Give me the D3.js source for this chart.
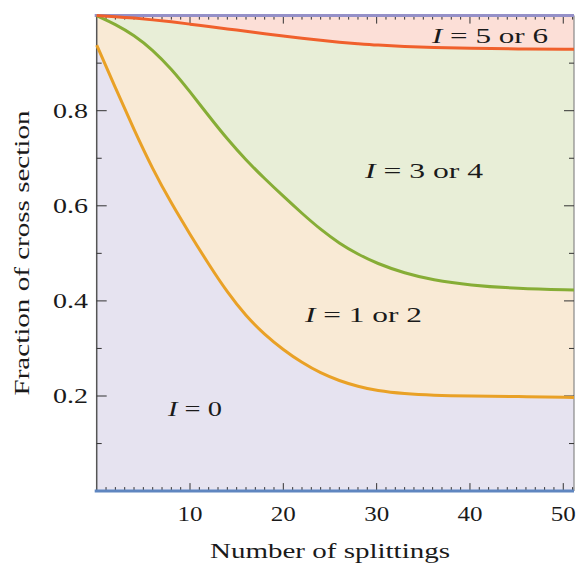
<!DOCTYPE html>
<html>
<head>
<meta charset="utf-8">
<script src="https://cdn.jsdelivr.net/npm/d3@7"></script>
<style>
  body { margin: 0; background: #fff; }
  text { font-family: "Liberation Serif", "DejaVu Serif", serif; fill: #1a1a1a; }
</style>
</head>
<body>
<div id="chart"></div>
<script>
// number of splittings (sample points)
const splittings = [0, 2, 4, 6, 8, 10, 12, 14, 16, 18, 20, 22, 24, 26, 28, 30, 33, 36, 40, 45, 51.15];
// cumulative fraction of cross section: boundary I=0 | I=1,2
const upTo0 = [0.938, 0.848, 0.760, 0.677, 0.605, 0.540, 0.477, 0.418, 0.368, 0.329, 0.297, 0.270, 0.248, 0.232, 0.220, 0.211, 0.2045, 0.2015, 0.200, 0.199, 0.197];
// boundary I=1,2 | I=3,4
const upTo2 = [1.0, 0.982, 0.959, 0.928, 0.888, 0.840, 0.789, 0.740, 0.696, 0.657, 0.620, 0.584, 0.550, 0.521, 0.498, 0.479, 0.458, 0.444, 0.433, 0.426, 0.423];
// boundary I=3,4 | I=5,6
const upTo4 = [1.0, 0.998, 0.995, 0.991, 0.987, 0.982, 0.977, 0.972, 0.967, 0.962, 0.957, 0.952, 0.948, 0.944, 0.941, 0.938, 0.935, 0.933, 0.931, 0.930, 0.929];

const xTicks = [10, 20, 30, 40, 50];
const yTicks = [0.2, 0.4, 0.6, 0.8];

const width = 576, height = 566;
const pLeft = 96.7, pRight = 574, pTop = 15.6, pBottom = 491.1;

const x = d3.scaleLinear().domain([0, 51.15]).range([pLeft, pRight]);
const y = d3.scaleLinear().domain([0, 1]).range([pBottom, pTop]);

const svg = d3.select("#chart").append("svg")
    .attr("width", width)
    .attr("height", height);

const ones = splittings.map(() => 1);
const zeros = splittings.map(() => 0);

const bands = [
    {lo: zeros, hi: upTo0, fill: "#e6e3f0"},
    {lo: upTo0, hi: upTo2, fill: "#f9ead5"},
    {lo: upTo2, hi: upTo4, fill: "#e8eed7"},
    {lo: upTo4, hi: ones, fill: "#fcdfd7"}
];

const area = d3.area()
    .x((d, i) => x(splittings[i]))
    .y0(d => y(d[0]))
    .y1(d => y(d[1]))
    .curve(d3.curveBasis);

bands.forEach(b => {
    svg.append("path")
        .datum(b.lo.map((v, i) => [v, b.hi[i]]))
        .attr("d", area)
        .attr("fill", b.fill);
});

const line = d3.line()
    .x((d, i) => x(splittings[i]))
    .y(d => y(d))
    .curve(d3.curveBasis);

// frame sides
svg.append("line").attr("x1", pLeft).attr("x2", pLeft).attr("y1", pTop).attr("y2", pBottom)
    .attr("stroke", "#555").attr("stroke-width", 1.5);
svg.append("line").attr("x1", pRight).attr("x2", pRight).attr("y1", pTop).attr("y2", pBottom)
    .attr("stroke", "#888").attr("stroke-width", 1.2);

// ticks
const g = svg.append("g").attr("stroke", "#333").attr("stroke-width", 1);
d3.range(1, 52).forEach(t => {
    const major = t % 10 === 0;
    const len = major ? 8 : 4;
    g.append("line").attr("x1", x(t)).attr("x2", x(t)).attr("y1", pBottom).attr("y2", pBottom - len);
    g.append("line").attr("x1", x(t)).attr("x2", x(t)).attr("y1", pTop).attr("y2", pTop + len);
});
d3.range(1, 10).forEach(k => {
    const t = k / 10;
    const major = k % 2 === 0;
    const len = major ? 10 : 5;
    g.append("line").attr("x1", pLeft).attr("x2", pLeft + len).attr("y1", y(t)).attr("y2", y(t));
    g.append("line").attr("x1", pRight).attr("x2", pRight - len).attr("y1", y(t)).attr("y2", y(t));
});

// top and bottom edges
svg.append("line").attr("x1", pLeft - 2).attr("x2", pRight).attr("y1", y(1)).attr("y2", y(1))
    .attr("stroke", "#9590c8").attr("stroke-width", 3);
svg.append("line").attr("x1", pLeft - 2).attr("x2", pRight).attr("y1", y(0)).attr("y2", y(0))
    .attr("stroke", "#5f86c0").attr("stroke-width", 3);

// boundary curves
[[upTo0, "#e9a126"], [upTo2, "#86ad36"], [upTo4, "#f0602c"]].forEach(([vals, c]) => {
    svg.append("path")
        .datum(vals)
        .attr("d", line)
        .attr("fill", "none")
        .attr("stroke", c)
        .attr("stroke-width", 3);
});

// tick labels
svg.selectAll(".xl").data(xTicks).enter().append("text")
    .attr("x", d => x(d)).attr("y", 521)
    .attr("text-anchor", "middle").attr("font-size", 21)
    .attr("textLength", 25).attr("lengthAdjust", "spacingAndGlyphs")
    .text(d => d);
svg.selectAll(".yl").data(yTicks).enter().append("text")
    .attr("x", 88).attr("y", d => y(d) + 7)
    .attr("text-anchor", "end").attr("font-size", 21)
    .attr("textLength", 35).attr("lengthAdjust", "spacingAndGlyphs")
    .text(d => d.toFixed(1));

// axis titles
svg.append("text").attr("x", 330).attr("y", 558)
    .attr("text-anchor", "middle").attr("font-size", 22)
    .attr("textLength", 240).attr("lengthAdjust", "spacingAndGlyphs")
    .text("Number of splittings");
svg.append("text")
    .attr("transform", "translate(29,253) rotate(-90)")
    .attr("text-anchor", "middle").attr("font-size", 22)
    .attr("textLength", 285).attr("lengthAdjust", "spacingAndGlyphs")
    .text("Fraction of cross section");

// region labels
const labels = [
    {t: "0", x: 195, y: 416, w: 54},
    {t: "1 or 2", x: 363.5, y: 321.5, w: 117},
    {t: "3 or 4", x: 424, y: 178, w: 118},
    {t: "5 or 6", x: 490, y: 43, w: 116}
];
labels.forEach(l => {
    const tx = svg.append("text").attr("x", l.x).attr("y", l.y)
        .attr("text-anchor", "middle").attr("font-size", 22)
        .attr("textLength", l.w).attr("lengthAdjust", "spacingAndGlyphs");
    tx.append("tspan").attr("font-style", "italic").text("I");
    tx.append("tspan").text(" = " + l.t);
});
</script>
</body>
</html>
